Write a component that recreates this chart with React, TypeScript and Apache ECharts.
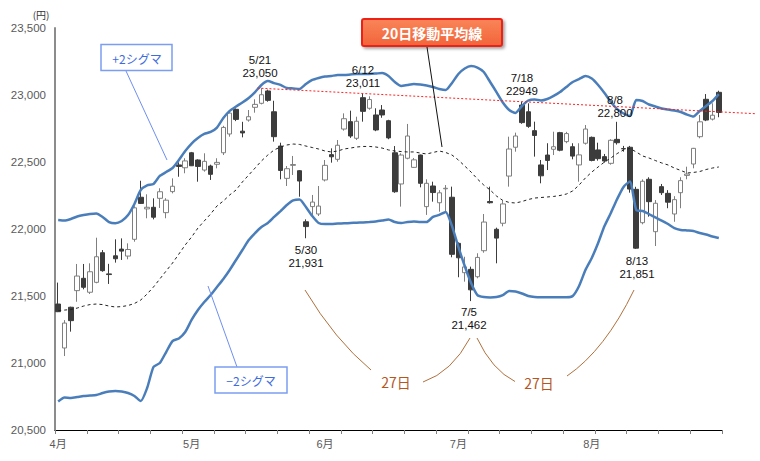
import React, { useEffect, useRef } from 'react';
import * as echarts from 'echarts';

const dates = [
  '4/2','4/3','4/4','4/5','4/6','4/9','4/10','4/11','4/12','4/13','4/16','4/17','4/18','4/19','4/20','4/23','4/24','4/25','4/26','4/27',
  '5/1','5/2','5/7','5/8','5/9','5/10','5/11','5/14','5/15','5/16','5/17','5/18','5/21','5/22','5/23','5/24','5/25','5/28','5/29','5/30','5/31',
  '6/1','6/4','6/5','6/6','6/7','6/8','6/11','6/12','6/13','6/14','6/15','6/18','6/19','6/20','6/21','6/22','6/25','6/26','6/27','6/28','6/29',
  '7/2','7/3','7/4','7/5','7/6','7/9','7/10','7/11','7/12','7/13','7/17','7/18','7/19','7/20','7/23','7/24','7/25','7/26','7/27','7/30','7/31',
  '8/1','8/2','8/3','8/6','8/7','8/8','8/9','8/10','8/13','8/14','8/15','8/16','8/17','8/20','8/21','8/22','8/23','8/24','8/27','8/28','8/29','8/30'
];

const opens = [
  21440,21112,21416,21540,21632,21528,21602,21823,21665,21800,
  21850,21798,21923,22237,22150,22162,22229,22122,22279,22478,
  22457,22569,22515,22440,22470,22483,22569,22709,22893,22730,
  22813,22908,22938,23030,22875,22619,22378,22475,22435,22054,
  22167,22112,22366,22555,22520,22746,22801,22677,22980,22901,
  22851,22888,22808,22569,22336,22528,22460,22552,22167,22321,
  22196,22300,22237,21893,21674,21699,21644,21838,22205,21998,
  22043,22395,22610,22925,22875,22734,22478,22552,22595,22719,
  22652,22614,22478,22640,22684,22590,22540,22490,22669,22600,
  22610,22296,22047,22371,21980,22316,22266,22112,22271,22400,
  22485,22689,22968,22820,23020
];
const closes = [
  21383,21298,21316,21649,21565,21681,21793,21689,21660,21778,
  21835,21847,22158,22191,22162,22088,22278,22215,22319,22467,
  22508,22472,22467,22505,22408,22497,22758,22865,22818,22717,
  22838,22930,23002,22960,22689,22437,22450,22481,22358,22018,
  22201,22171,22475,22539,22625,22823,22694,22804,22878,22966,
  22739,22851,22680,22278,22552,22694,22516,22341,22341,22272,
  22270,22304,21811,21785,21717,21546,21788,22052,22196,21932,
  22187,22597,22694,22794,22766,22698,22397,22512,22614,22588,
  22712,22544,22553,22746,22512,22525,22507,22662,22644,22598,
  22298,21857,22356,22204,22192,22271,22200,22219,22361,22410,
  22602,22800,22813,22849,22870
];
const lows = [
  21380,21052,21234,21457,21550,21515,21595,21681,21590,21749,
  21769,21774,21905,22187,22080,22072,22157,22080,22266,22390,
  22416,22470,22353,22428,22366,22453,22552,22689,22805,22684,
  22801,22868,22930,22950,22652,22371,22321,22403,22241,21931,
  22092,22097,22355,22495,22502,22734,22680,22664,22801,22890,
  22730,22830,22670,22270,22167,22520,22455,22311,22105,22204,
  22129,22120,21789,21640,21607,21462,21632,21823,22190,21744,
  22020,22316,22577,22785,22755,22540,22341,22440,22552,22580,
  22640,22520,22353,22630,22505,22510,22495,22480,22630,22577,
  22271,21851,22035,22092,21873,22254,22155,22054,22155,22371,
  22453,22677,22805,22810,22834
];
const highs = [
  21600,21320,21420,21739,21739,21744,21935,21843,21740,21923,
  21930,21893,22170,22360,22259,22229,22304,22230,22378,22498,
  22528,22575,22520,22565,22480,22528,22770,22875,22900,22800,
  22888,22968,23050,23040,22957,22644,22470,22545,22440,22072,
  22254,22321,22515,22602,22664,22863,22883,22838,23011,22990,
  22901,22925,22815,22619,22565,22784,22530,22555,22371,22353,
  22290,22328,22316,21900,21793,21719,21819,22112,22316,22010,
  22210,22689,22719,22949,22938,22801,22515,22640,22726,22725,
  22725,22640,22640,22776,22690,22644,22560,22670,22800,22620,
  22620,22315,22370,22386,22216,22336,22290,22245,22386,22465,
  22605,22851,23007,22938,23032
];

const ma20 = [
  21390,21395,21399,21410,21425,21436,21440,21436,21425,21418,
  21421,21429,21444,21470,21515,21567,21627,21687,21746,21813,
  21881,21940,22007,22060,22112,22172,22209,22254,22291,22351,
  22403,22455,22508,22552,22590,22612,22627,22634,22631,22619,
  22608,22597,22582,22575,22582,22597,22604,22612,22616,22616,
  22612,22604,22590,22582,22578,22575,22575,22567,22560,22571,
  22582,22571,22552,22515,22470,22425,22373,22328,22291,22246,
  22213,22198,22194,22205,22220,22231,22235,22239,22243,22250,
  22261,22284,22328,22381,22425,22463,22500,22530,22563,22590,
  22601,22575,22545,22530,22511,22493,22478,22455,22437,22418,
  22422,22429,22444,22455,22463
];
const upper2 = [
  22067,22063,22075,22093,22104,22112,22116,22090,22052,22043,
  22060,22104,22187,22291,22325,22336,22396,22425,22455,22515,
  22582,22638,22679,22709,22724,22757,22828,22881,22914,22944,
  22978,23022,23075,23104,23089,23075,23052,23049,23045,23082,
  23112,23127,23138,23142,23149,23149,23153,23157,23157,23157,
  23160,23164,23142,23097,23067,23075,23082,23078,23071,23060,
  23045,23037,23090,23157,23198,23216,23205,23172,23097,23022,
  22944,22888,22866,22918,22959,22966,22959,22970,22993,23022,
  23060,23097,23119,23142,23123,23075,23015,22948,22895,22862,
  22843,22963,22955,22929,22914,22899,22892,22884,22873,22854,
  22839,22881,22918,22955,23007
];
const lower2 = [
  20713,20743,20739,20746,20754,20757,20761,20776,20787,20791,
  20787,20776,20754,20716,20813,20970,21000,21082,21164,21183,
  21231,21321,21395,21455,21507,21567,21627,21694,21769,21843,
  21918,21970,22015,22045,22090,22134,22179,22213,22220,22164,
  22097,22045,22037,22037,22041,22042,22045,22047,22049,22052,
  22056,22063,22071,22052,22045,22052,22056,22052,22052,22090,
  22105,22127,22022,21866,21724,21597,21507,21492,21489,21492,
  21507,21537,21533,21519,21500,21492,21490,21490,21490,21490,
  21490,21500,21575,21694,21784,21896,22022,22119,22224,22314,
  22355,22142,22134,22112,22086,22063,22037,22007,21993,21989,
  21985,21970,21959,21944,21933
];

// trend line through the highs of 5/21 and 6/12
const trendAnchors = [
  { index: 32, value: 23050 },
  { index: 48, value: 23011 },
];

const peakLabels = [
  { date: '5/21', price: '23,050', x: 260, y: 59.5 },
  { date: '6/12', price: '23,011', x: 363, y: 70 },
  { date: '7/18', price: '22949', x: 522, y: 78 },
  { date: '8/8', price: '22,800', x: 615, y: 100 },
  { date: '5/30', price: '21,931', x: 306, y: 250 },
  { date: '7/5', price: '21,462', x: 469, y: 311.5 },
  { date: '8/13', price: '21,851', x: 637, y: 261 },
];

const FONT = '"Noto Sans CJK JP", "Noto Sans", sans-serif';
const NUMFONT = '"Liberation Sans", "Noto Sans CJK JP", sans-serif';

export default function App() {
  const ref = useRef<HTMLDivElement>(null);

  useEffect(() => {
    document.body.style.margin = '0';
    const chart = echarts.init(ref.current!, null, { renderer: 'svg' });
    const candleData = dates.map((_, i) => [opens[i], closes[i], lows[i], highs[i]]);

    chart.setOption({
      animation: false,
      backgroundColor: '#ffffff',
      grid: { left: 55, right: 38, top: 28, bottom: 31, containLabel: false, outerBoundsMode: 'none' },
      xAxis: {
        type: 'category',
        data: dates,
        boundaryGap: true,
        axisLine: { lineStyle: { color: '#000000', width: 1 } },
        axisTick: { show: true, interval: 4, length: 4, lineStyle: { color: '#808080' } },
        axisLabel: {
          interval: 20,
          margin: 8,
          color: '#595959',
          fontSize: 11,
          fontFamily: NUMFONT,
          formatter: (v: string) => `${v.split('/')[0]}月`,
        },
        splitLine: { show: false },
      },
      yAxis: {
        type: 'value',
        min: 20500,
        max: 23500,
        interval: 500,
        axisLine: { show: true, lineStyle: { color: '#8c8c8c', width: 2 } },
        axisTick: { show: false },
        splitLine: { show: false },
        axisLabel: {
          margin: 9,
          color: '#595959',
          fontSize: 11.5,
          fontFamily: NUMFONT,
          formatter: (v: number) => v.toLocaleString('en-US'),
        },
      },
      series: [
        {
          type: 'candlestick',
          data: candleData,
          barWidth: 5,
          itemStyle: {
            color: '#ffffff',
            color0: '#3c3c3c',
            borderColor: '#7f7f7f',
            borderColor0: '#3c3c3c',
            borderWidth: 1,
          },
          z: 2,
        },
        {
          type: 'line',
          data: ma20,
          symbol: 'none',
          lineStyle: { color: '#222222', width: 1, type: [3, 3] },
          z: 3,
        },
        {
          type: 'line',
          data: upper2,
          symbol: 'none',
          smooth: 0.2,
          lineStyle: { color: '#4a7ebb', width: 2.5 },
          z: 4,
        },
        {
          type: 'line',
          data: lower2,
          symbol: 'none',
          smooth: 0.2,
          lineStyle: { color: '#4a7ebb', width: 2.5 },
          z: 4,
        },
      ],
    });

    const p1 = chart.convertToPixel({ gridIndex: 0 }, [trendAnchors[0].index, trendAnchors[0].value]) as number[];
    const p2 = chart.convertToPixel({ gridIndex: 0 }, [trendAnchors[1].index, trendAnchors[1].value]) as number[];
    const slope = (p2[1] - p1[1]) / (p2[0] - p1[0]);
    const xs = p1[0] - 4;
    const xe = 756;

    const txt = (text: string, x: number, y: number, extra: any = {}, z = 30) => ({
      type: 'text',
      x,
      y,
      z,
      style: {
        text,
        fill: '#111111',
        font: `11px ${FONT}`,
        align: 'center',
        verticalAlign: 'middle',
        textAlign: 'center',
        textVerticalAlign: 'middle',
        ...extra,
      },
    });

    const brown = '#b0703c';
    const curve = (x1: number, y1: number, cx: number, cy: number, x2: number, y2: number) => ({
      type: 'bezierCurve',
      z: 20,
      shape: { x1, y1, cpx1: cx, cpy1: cy, x2, y2 },
      style: { stroke: brown, lineWidth: 1, fill: 'none' },
    });

    const graphics: any[] = [
      {
        type: 'line',
        z: 15,
        shape: { x1: xs, y1: p1[1] + slope * (xs - p1[0]), x2: xe, y2: p1[1] + slope * (xe - p1[0]) },
        style: { stroke: '#ff2020', lineWidth: 1, lineDash: [2, 2] },
      },
      txt('(円)', 41, 14, { font: `10px ${FONT}`, fill: '#333333' }),
      ...peakLabels.flatMap((p) => [
        txt(p.date, p.x, p.y, { font: `11.5px ${NUMFONT}` }),
        txt(p.price, p.x, p.y + 13, { font: `11.5px ${NUMFONT}` }),
      ]),
      // +2 sigma callout
      {
        type: 'line', z: 20,
        shape: { x1: 126, y1: 71, x2: 167, y2: 160 },
        style: { stroke: '#6f8ff0', lineWidth: 1 },
      },
      {
        type: 'rect', z: 21,
        shape: { x: 101, y: 44.5, width: 71, height: 26 },
        style: { fill: '#ffffff', stroke: '#7b9df2', lineWidth: 1.5 },
      },
      txt('+2シグマ', 137, 58, { fill: '#3e6be0', font: `12px ${FONT}` }),
      // -2 sigma callout
      {
        type: 'line', z: 20,
        shape: { x1: 208, y1: 286, x2: 237, y2: 367 },
        style: { stroke: '#6f8ff0', lineWidth: 1 },
      },
      {
        type: 'rect', z: 21,
        shape: { x: 215, y: 367, width: 72, height: 26 },
        style: { fill: '#ffffff', stroke: '#7b9df2', lineWidth: 1.5 },
      },
      txt('−2シグマ', 251, 380.5, { fill: '#3e6be0', font: `12px ${FONT}` }),
      // 20-day MA callout
      {
        type: 'line', z: 20,
        shape: { x1: 427, y1: 47, x2: 442, y2: 147 },
        style: { stroke: '#111111', lineWidth: 1 },
      },
      {
        type: 'rect', z: 21,
        shape: { x: 362, y: 19, width: 140, height: 27, r: 2 },
        style: {
          fill: new echarts.graphic.LinearGradient(0, 0, 0, 1, [
            { offset: 0, color: '#f98558' },
            { offset: 1, color: '#f2643a' },
          ]),
          stroke: '#ec2418',
          lineWidth: 2,
          shadowBlur: 3,
          shadowOffsetX: 2,
          shadowOffsetY: 2,
          shadowColor: 'rgba(0,0,0,0.35)',
        },
      },
      txt('20日移動平均線', 432, 33, { fill: '#ffffff', font: `bold 14px ${FONT}` }),
      // 27-day cycle curves
      curve(305, 290, 335, 340, 371, 370),
      curve(423, 382, 452, 372, 470, 338),
      curve(477, 338, 492, 370, 515, 381.5),
      curve(567, 376, 605, 350, 634, 290),
      txt('27日', 396, 381.5, { fill: '#b4561e', font: `14px ${FONT}` }),
      txt('27日', 539, 383, { fill: '#b4561e', font: `14px ${FONT}` }),
    ];

    chart.setOption({ graphic: graphics });

    return () => chart.dispose();
  }, []);

  return <div ref={ref} style={{ width: 760, height: 461 }} />;
}
